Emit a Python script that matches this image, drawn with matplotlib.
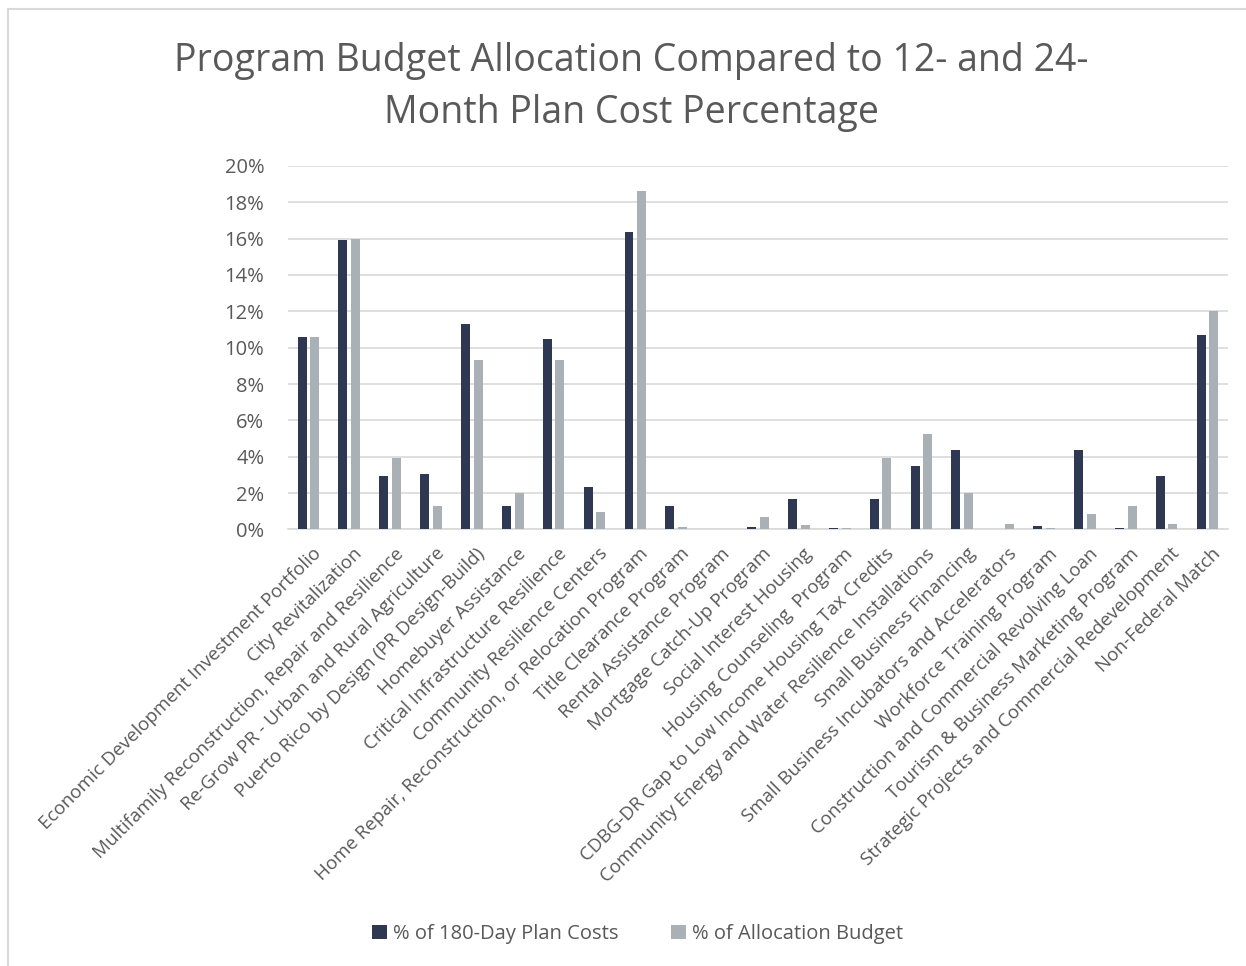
import matplotlib.pyplot as plt
import matplotlib.patches as mpatches
import numpy as np

# categories and values (percent)
programs = [
    "Economic Development Investment Portfolio",
    "City Revitalization",
    "Multifamily Reconstruction, Repair and Resilience",
    "Re-Grow PR - Urban and Rural Agriculture",
    "Puerto Rico by Design (PR Design-Build)",
    "Homebuyer Assistance",
    "Critical Infrastructure Resilience",
    "Community Resilience Centers",
    "Home Repair, Reconstruction, or Relocation Program",
    "Title Clearance Program",
    "Rental Assistance Program",
    "Mortgage Catch-Up Program",
    "Social Interest Housing",
    "Housing Counseling  Program",
    "CDBG-DR Gap to Low Income Housing Tax Credits",
    "Community Energy and Water Resilience Installations",
    "Small Business Financing",
    "Small Business Incubators and Accelerators",
    "Workforce Training Program",
    "Construction and Commercial Revolving Loan",
    "Tourism & Business Marketing Program",
    "Strategic Projects and Commercial Redevelopment",
    "Non-Federal Match",
]
plan_costs = [10.6, 15.9, 2.95, 3.05, 11.3, 1.3, 10.45, 2.35, 16.35, 1.3, 0.0,
              0.15, 1.65, 0.05, 1.65, 3.5, 4.35, 0.0, 0.2, 4.35, 0.05, 2.95, 10.7]
alloc_budget = [10.6, 16.0, 3.95, 1.3, 9.3, 2.0, 9.3, 0.95, 18.6, 0.13, 0.0,
                0.67, 0.22, 0.05, 3.95, 5.25, 2.0, 0.31, 0.05, 0.84, 1.27, 0.31, 12.0]
yticks = [0, 2, 4, 6, 8, 10, 12, 14, 16, 18, 20]

dark = "#2E3852"
light = "#A9B1B7"
txt = "#595959"
plt.rcParams['font.family'] = ['Open Sans', 'DejaVu Sans']

fig = plt.figure(figsize=(12.46, 9.66), dpi=100)
ax = fig.add_axes([0.2311, 0.452, 0.7544, 0.3762])

# light frame like the excel chart area
fig.patches.append(mpatches.Rectangle((8 / 1246, -0.05), 1.2, 1 - 9 / 966 + 0.05,
                                      transform=fig.transFigure, fill=False,
                                      edgecolor="#D9D9D9", linewidth=1.5))

x = np.arange(len(programs))
w = 0.22
ax.bar(x - 0.155, plan_costs, w, color=dark, label="% of 180-Day Plan Costs", zorder=3)
ax.bar(x + 0.155, alloc_budget, w, color=light, label="% of Allocation Budget", zorder=3)

ax.set_xlim(-0.5, len(programs) - 0.5)
ax.set_ylim(0, 20)
ax.set_yticks(yticks)
ax.set_yticklabels([f"{v}%" for v in yticks], fontsize=14.5, color=txt)
ax.yaxis.grid(True, color="#D9D9D9", linewidth=1.2, zorder=0)
ax.tick_params(axis='both', length=0)
ax.tick_params(axis='y', pad=17)
for s in ['top', 'right', 'left']:
    ax.spines[s].set_visible(False)
ax.spines['bottom'].set_color("#D9D9D9")
ax.spines['bottom'].set_linewidth(1.2)

ax.set_xticks(x + 0.1)
ax.set_xticklabels(programs, rotation=45, ha='right', va='top',
                   rotation_mode='anchor', fontsize=13.5, color=txt)
ax.tick_params(axis='x', pad=11)

fig.text(0.507, 0.957, "Program Budget Allocation Compared to 12- and 24-\nMonth Plan Cost Percentage",
         ha='center', va='top', fontsize=27, color=txt, linespacing=1.5)

fig.legend(loc='center', bbox_to_anchor=(0.512, 0.033), ncol=2, frameon=False,
           fontsize=14.5, labelcolor=txt, handlelength=0.75, handleheight=0.75,
           handletextpad=0.3, columnspacing=2.6)

fig.savefig("out.png", dpi=100)
